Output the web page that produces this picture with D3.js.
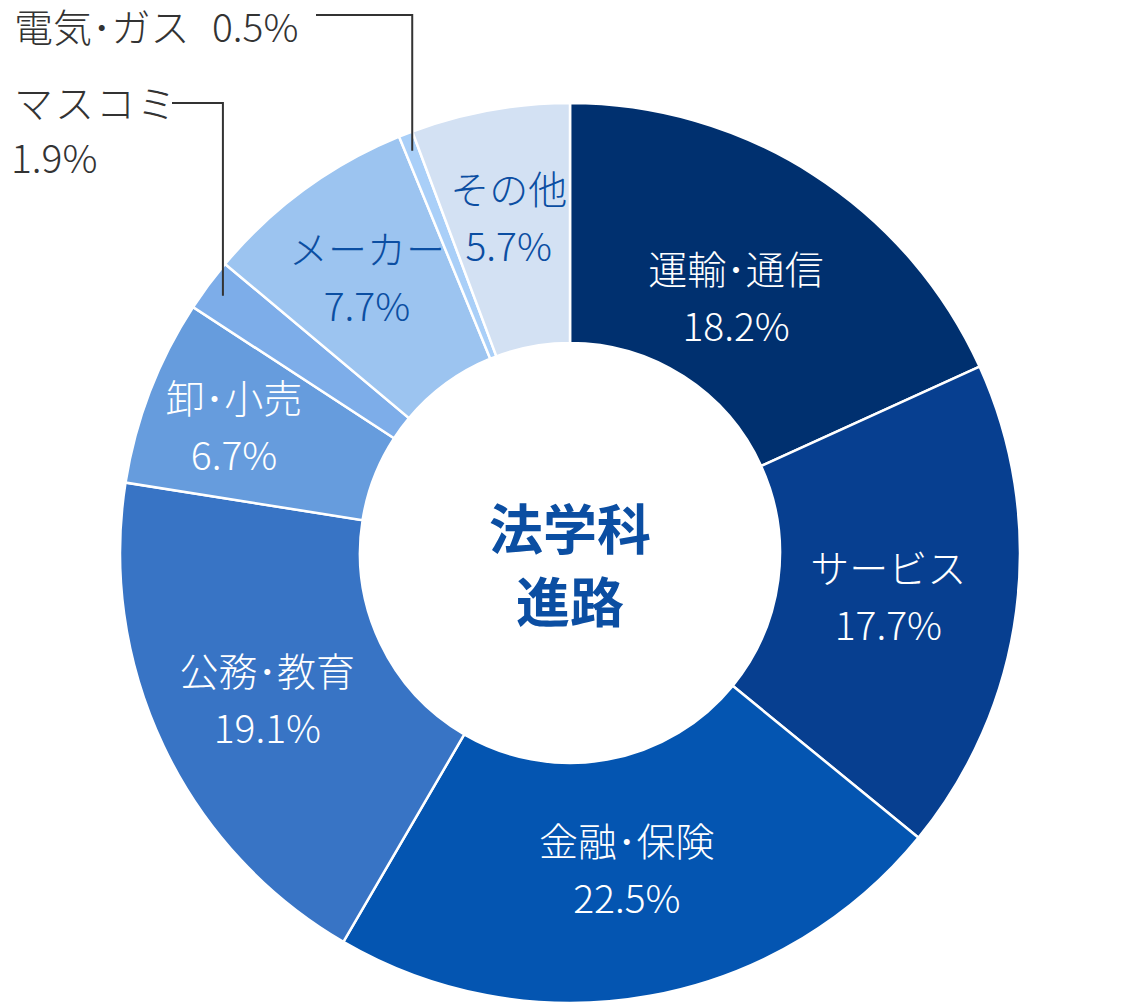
<!DOCTYPE html>
<html>
<head>
<meta charset="utf-8">
<script src="https://cdn.jsdelivr.net/npm/d3@7"></script>
<style>
  body { margin: 0; background: #fff; }
  text { font-family: "Noto Sans CJK JP", "Noto Sans", sans-serif; }
</style>
</head>
<body>
<script>
// data
var categories = ['運輸･通信', 'サービス', '金融･保険', '公務･教育', '卸･小売', 'マスコミ', 'メーカー', '電気･ガス', 'その他'];
var shares = [18.2, 17.7, 22.5, 19.1, 6.7, 1.9, 7.7, 0.5, 5.7];
var colors = ['#00306f', '#073f90', '#0455b1', '#3874c5', '#669cdd', '#7dade9', '#9cc4f0', '#a9cff8', '#d3e1f3'];
var insideLabel = [true, true, true, true, true, false, true, false, true];
var darkText = ['メーカー', 'その他'];

// label distance from centre, tuned by eye
var labelRadius = {'運輸･通信': 307, 'サービス': 321, '金融･保険': 319, '公務･教育': 335, '卸･小売': 360, 'メーカー': 344, 'その他': 344};

var width = 1140;
var height = 1006;
var cx = 570, cy = 553;
var outerR = 450, innerR = 210;
var fontSize = 39;

var svg = d3.select('body')
  .append('svg')
  .attr('width', width)
  .attr('height', height);

var g = svg.append('g').attr('transform', 'translate(' + cx + ',' + cy + ')');

var pie = d3.pie().sort(null).value(function(d) { return d.v; });
var rows = categories.map(function(c, i) { return {name: c, v: shares[i], color: colors[i], inside: insideLabel[i]}; });
var arcs = pie(rows);

var arc = d3.arc().innerRadius(innerR).outerRadius(outerR);
var leaderArc = d3.arc().innerRadius(432).outerRadius(432);

function labelPos(d) {
  var r = labelRadius[d.data.name] || 330;
  return d3.arc().innerRadius(r).outerRadius(r).centroid(d);
}

g.selectAll('path.slice')
  .data(arcs)
  .enter().append('path')
  .attr('class', 'slice')
  .attr('d', arc)
  .attr('fill', function(d) { return d.data.color; })
  .attr('stroke', '#fff')
  .attr('stroke-width', 2.5);

// inside labels
var lab = g.selectAll('text.lab')
  .data(arcs.filter(function(d) { return d.data.inside; }))
  .enter().append('text')
  .attr('class', 'lab')
  .attr('text-anchor', 'middle')
  .attr('font-size', fontSize)
  .attr('font-weight', 300)
  .attr('fill', function(d) { return darkText.indexOf(d.data.name) >= 0 ? '#0b4ea2' : '#fff'; })
  .attr('transform', function(d) { var c = labelPos(d); return 'translate(' + c[0] + ',' + c[1] + ')'; });

lab.append('tspan')
  .attr('x', 0)
  .attr('y', -28)
  .attr('dominant-baseline', 'central')
  .text(function(d) { return d.data.name; });

lab.append('tspan')
  .attr('x', 0)
  .attr('y', 29)
  .attr('dominant-baseline', 'central')
  .text(function(d) { return d.data.v.toFixed(1) + '%'; });

// center title
var title = svg.append('text')
  .attr('text-anchor', 'middle')
  .attr('font-size', 54)
  .attr('font-weight', 'bold')
  .attr('fill', '#0b4ea2');
title.append('tspan').attr('x', cx).attr('y', 526).attr('dominant-baseline', 'central').text('法学科');
title.append('tspan').attr('x', cx).attr('y', 599).attr('dominant-baseline', 'central').text('進路');

// outside labels with elbow leaders
var outside = arcs.filter(function(d) { return !d.data.inside; });
var mc = outside.find(function(d) { return d.data.name === 'マスコミ'; });
var eg = outside.find(function(d) { return d.data.name === '電気･ガス'; });

function leader(d, topY, leftX) {
  var p = leaderArc.centroid(d);
  var x = cx + p[0], y = cy + p[1];
  svg.append('path')
    .attr('d', 'M' + x + ',' + y + 'V' + topY + 'H' + leftX)
    .attr('fill', 'none')
    .attr('stroke', '#333')
    .attr('stroke-width', 2);
}

leader(mc, 103, 172);
leader(eg, 15, 316);

function outText(x, y, s, spacing) {
  svg.append('text')
    .attr('x', x).attr('y', y)
    .attr('dominant-baseline', 'central')
    .attr('font-size', fontSize)
    .attr('font-weight', 300)
    .attr('fill', '#333')
    .attr('letter-spacing', spacing || 0)
    .text(s);
}

outText(14, 101, mc.data.name, 2);
outText(11, 156, mc.data.v.toFixed(1) + '%');
outText(14, 25, eg.data.name);
outText(212, 25, eg.data.v.toFixed(1) + '%');
</script>
</body>
</html>
